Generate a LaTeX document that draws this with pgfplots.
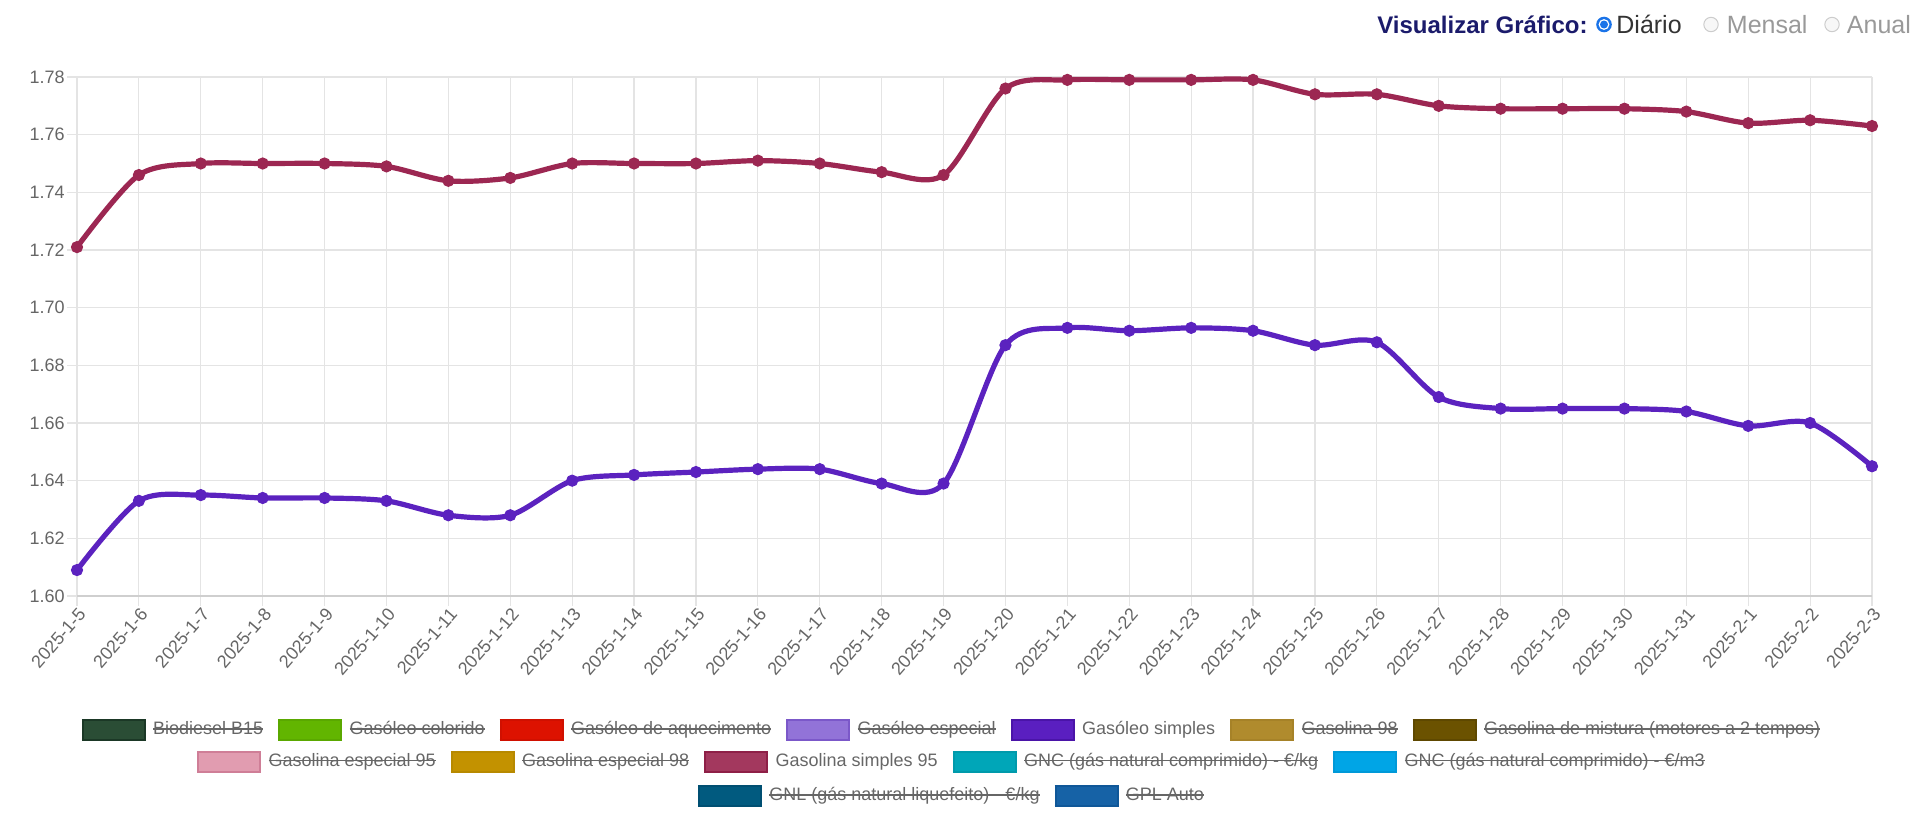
\documentclass[border=0pt]{standalone}
\usepackage{pgfplots}
\usepackage{pgfplotstable}
\pgfplotsset{compat=1.18}
\usepackage{fontspec}
\setmainfont{Liberation Sans}

\definecolor{gasolina}{HTML}{9C2752}
\definecolor{gasoleo}{HTML}{5B22BF}
\definecolor{tickgray}{HTML}{666666}
\definecolor{gridgray}{HTML}{E4E4E4}
\definecolor{axisgray}{HTML}{CFCFCF}
\definecolor{navy}{HTML}{1B1B6B}
\definecolor{radioblue}{HTML}{1A73E8}

\newsavebox\soutbox
\newcommand{\sout}[1]{\sbox\soutbox{#1}\rlap{\rule[2.6pt]{\wd\soutbox}{0.7pt}}\usebox\soutbox}
\newcommand{\legbox}[2]{\raisebox{-2pt}{\setlength{\fboxsep}{0pt}\setlength{\fboxrule}{1pt}\fcolorbox[HTML]{#2}{#1}{\rule{0pt}{9pt}\hspace{30pt}}}}
\newcommand{\legitem}[3]{\legbox{#1}{#2}\hspace{3.7pt}#3}
\newcommand{\gap}{\hspace{7.5pt}}

\pgfplotstableread{
x gasolina gasoleo
0  1.721 1.609
1  1.746 1.633
2  1.750 1.635
3  1.750 1.634
4  1.750 1.634
5  1.749 1.633
6  1.744 1.628
7  1.745 1.628
8  1.750 1.640
9  1.750 1.642
10 1.750 1.643
11 1.751 1.644
12 1.750 1.644
13 1.747 1.639
14 1.746 1.639
15 1.776 1.687
16 1.779 1.693
17 1.779 1.692
18 1.779 1.693
19 1.779 1.692
20 1.774 1.687
21 1.774 1.688
22 1.770 1.669
23 1.769 1.665
24 1.769 1.665
25 1.769 1.665
26 1.768 1.664
27 1.764 1.659
28 1.765 1.660
29 1.763 1.645
}\data

\begin{document}
\begin{tikzpicture}
\useasboundingbox (-38.5pt,-120.5pt) rectangle (921.5pt,298pt);
\begin{axis}[
  at={(0,0)}, anchor=south west,
  scale only axis, width=897.5pt, height=259.5pt,
  xmin=0, xmax=29, ymin=1.60, ymax=1.78,
  xtick=data,
  xticklabels={2025-1-5,2025-1-6,2025-1-7,2025-1-8,2025-1-9,2025-1-10,2025-1-11,2025-1-12,2025-1-13,2025-1-14,2025-1-15,2025-1-16,2025-1-17,2025-1-18,2025-1-19,2025-1-20,2025-1-21,2025-1-22,2025-1-23,2025-1-24,2025-1-25,2025-1-26,2025-1-27,2025-1-28,2025-1-29,2025-1-30,2025-1-31,2025-2-1,2025-2-2,2025-2-3},
  ytick={1.60,1.62,1.64,1.66,1.68,1.70,1.72,1.74,1.76,1.78},
  yticklabel style={/pgf/number format/fixed, /pgf/number format/precision=2, /pgf/number format/fixed zerofill, /pgf/number format/assume math mode=true, font=\fontsize{9}{10.8}\selectfont, text=tickgray, inner sep=1pt},
  xticklabel style={rotate=49, anchor=east, font=\fontsize{9}{10.8}\selectfont, text=tickgray, inner sep=1pt, yshift=-3.5pt, xshift=1pt},
  grid=major,
  major grid style={gridgray, line width=0.6pt},
  tick align=outside, major tick length=5pt,
  tick style={gridgray, line width=0.6pt},
  xtick pos=left, ytick pos=left,
  axis line style={draw=none},
  clip=false,
]
\draw[axisgray, line width=0.9pt] (rel axis cs:0,0) -- (rel axis cs:1,0);
\addplot[gasolina, line width=2.6pt, smooth, mark=*, mark size=2.8pt, mark options={fill=gasolina, draw=gasolina, line width=0.5pt}] table[x=x, y=gasolina] {\data};
\addplot[gasoleo, line width=2.6pt, smooth, mark=*, mark size=2.8pt, mark options={fill=gasoleo, draw=gasoleo, line width=0.5pt}] table[x=x, y=gasoleo] {\data};
\end{axis}

% header
\node[anchor=base east, inner sep=0pt, font=\bfseries\fontsize{12}{14}\selectfont, text=navy] at (755.5pt,281.5pt) {Visualizar Gráfico:};
\fill[radioblue] (763.5pt,285.75pt) circle (3.9pt);
\fill[white] (763.5pt,285.75pt) circle (2.7pt);
\fill[radioblue] (763.5pt,285.75pt) circle (2.0pt);
\node[anchor=base west, inner sep=0pt, font=\fontsize{12.5}{14}\selectfont, text=black!80] at (769.5pt,281.5pt) {Diário};
\draw[black!20, fill=black!3, line width=0.5pt] (817pt,285.75pt) circle (3.6pt);
\node[anchor=base west, inner sep=0pt, font=\fontsize{12.5}{14}\selectfont, text=black!40] at (824.75pt,281.5pt) {Mensal};
\draw[black!20, fill=black!3, line width=0.5pt] (877.5pt,285.75pt) circle (3.6pt);
\node[anchor=base west, inner sep=0pt, font=\fontsize{12.5}{14}\selectfont, text=black!40] at (884.75pt,281.5pt) {Anual};

% legend
\begin{scope}[every node/.style={inner sep=0pt, font=\fontsize{9}{10.8}\selectfont, text=tickgray}]
\node at (437pt,-66.9pt) {%
\legitem{2A4D35}{1B3826}{\sout{Biodiesel B15}}\gap
\legitem{62B500}{5AA800}{\sout{Gasóleo colorido}}\gap
\legitem{DD1200}{D01000}{\sout{Gasóleo de aquecimento}}\gap
\legitem{9273D8}{7B58C9}{\sout{Gasóleo especial}}\gap
\legitem{5A1FC0}{4A14A8}{Gasóleo simples}\gap
\legitem{B08B2D}{A68228}{\sout{Gasolina 98}}\gap
\legitem{6B5200}{5E4800}{\sout{Gasolina de mistura (motores a 2 tempos)}}};
\node at (437pt,-82.8pt) {%
\legitem{E19CB0}{CF7E97}{\sout{Gasolina especial 95}}\gap
\legitem{C39200}{B78900}{\sout{Gasolina especial 98}}\gap
\legitem{A3385E}{8E1F47}{Gasolina simples 95}\gap
\legitem{00A6B8}{009AAB}{\sout{GNC (gás natural comprimido) - €/kg}}\gap
\legitem{00A5E6}{0099D8}{\sout{GNC (gás natural comprimido) - €/m3}}};
\node at (437pt,-99.95pt) {%
\legitem{015A7F}{004F72}{\sout{GNL (gás natural liquefeito) - €/kg}}\gap
\legitem{1662A6}{0F5798}{\sout{GPL Auto}}};
\end{scope}
\end{tikzpicture}
\end{document}
